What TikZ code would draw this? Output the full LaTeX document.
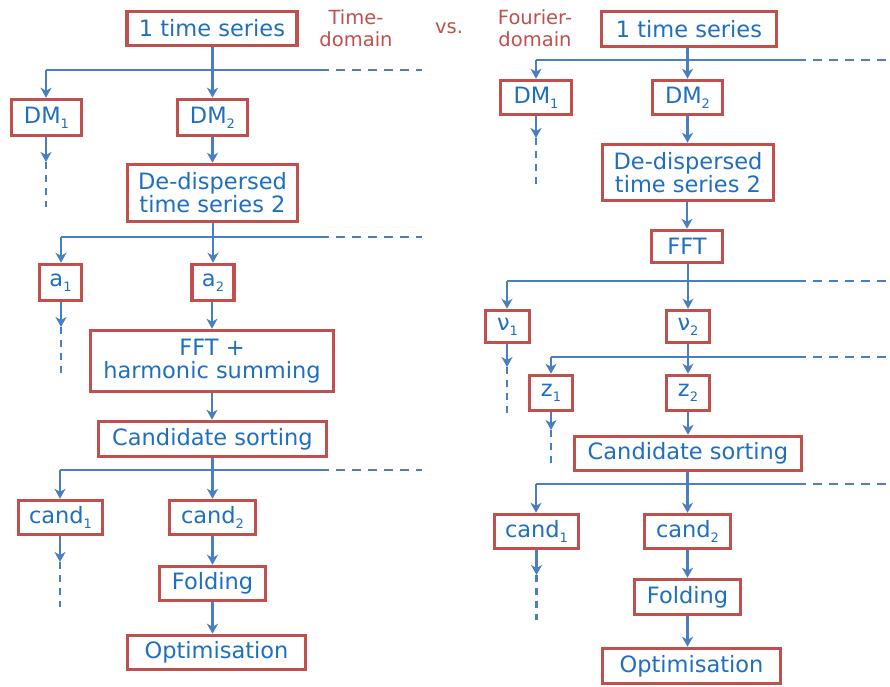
\documentclass[tikz,border=0pt]{standalone}
\usepackage{fontspec}
\setmainfont{DejaVu Sans}
\usetikzlibrary{arrows.meta}
\definecolor{boxred}{HTML}{C0504D}
\definecolor{linkblue}{HTML}{4A7EC2}
\definecolor{txtblue}{HTML}{1F6FC0}
\newcommand{\lowsub}[1]{\raisebox{-0.4ex}{\fontsize{13}{13}\selectfont #1}}
\begin{document}
\begin{tikzpicture}[x=1pt,y=-1pt,
  box/.style={draw=boxred,line width=3.5pt,fill=white,text=txtblue,
    font=\fontsize{22.5}{23}\selectfont,align=center,inner sep=0pt},
  conn/.style={draw=linkblue,line width=2.6pt},
  arr/.style={conn,-{Stealth[length=10pt,width=11pt,inset=3pt]}},
  hdash/.style={conn,dash pattern=on 9pt off 7pt},
  vdash/.style={conn,dash pattern=on 7pt off 6pt},
  lbl/.style={text=boxred,font=\fontsize{19.5}{22}\selectfont,align=center,inner sep=0pt}]
\useasboundingbox (0,0) rectangle (890,686);
\fill[white] (0,0) rectangle (890,686);

% ---------- left: time-domain ----------
\node[box,minimum width=170pt,minimum height=34pt] (tsL) at (212,28.5) {1 time series};
\node[box,minimum width=70pt,minimum height=36pt] (dm1L) at (46.5,117.5) {DM\lowsub{1}};
\node[box,minimum width=70pt,minimum height=36pt] (dm2L) at (212.5,117.5) {DM\lowsub{2}};
\node[box,minimum width=170pt,minimum height=57pt] (ddL) at (212.5,193) {De-dispersed\\time series 2};
\node[box,minimum width=42pt,minimum height=36pt] (a1L) at (60.5,282.5) {a\lowsub{1}};
\node[box,minimum width=42pt,minimum height=36pt] (a2L) at (213,282.5) {a\lowsub{2}};
\node[box,minimum width=243pt,minimum height=61pt] (fftL) at (212,361) {FFT +\\harmonic summing};
\node[box,minimum width=228pt,minimum height=35pt] (csL) at (212.5,439) {Candidate sorting};
\node[box,minimum width=84pt,minimum height=34pt] (c1L) at (60.5,517.5) {cand\lowsub{1}};
\node[box,minimum width=86pt,minimum height=34pt] (c2L) at (212.5,517.5) {cand\lowsub{2}};
\node[box,minimum width=106pt,minimum height=34pt] (foldL) at (212.5,583.5) {Folding};
\node[box,minimum width=178pt,minimum height=34pt] (optL) at (216.5,652.5) {Optimisation};

\node[lbl] (tdom) at (356,28) {Time-\\domain};
\node[lbl] (vs) at (449,28) {vs.};
\node[lbl] (fdom) at (535,28) {Fourier-\\domain};

% buses left
\coordinate (bL1) at (46,70);   \coordinate (bL1s) at (320,70);  \coordinate (bL1e) at (422,70);
\coordinate (bL2) at (61,237);  \coordinate (bL2s) at (320,237); \coordinate (bL2e) at (422,237);
\coordinate (bL3) at (60,470);  \coordinate (bL3s) at (320,470); \coordinate (bL3e) at (422,470);
\draw[conn] (bL1) -- (bL1s); \draw[hdash] (bL1s) -- (bL1e);
\draw[conn] (bL2) -- (bL2s); \draw[hdash] (bL2s) -- (bL2e);
\draw[conn] (bL3) -- (bL3s); \draw[hdash] (bL3s) -- (bL3e);

\draw[arr] (tsL.south -| dm2L) -- (dm2L.north);
\draw[arr] (bL1) -- (bL1 |- dm1L.north);
\draw[arr] (dm2L.south) -- (dm2L.south |- ddL.north);
\draw[arr] (ddL.south -| a2L) -- (a2L.north);
\draw[arr] (bL2) -- (bL2 |- a1L.north);
\draw[arr] (a2L.south -| fftL) -- (fftL.north);
\draw[arr] (fftL.south) -- (fftL.south |- csL.north);
\draw[arr] (csL.south -| c2L) -- (c2L.north);
\draw[arr] (bL3) -- (bL3 |- c1L.north);
\draw[arr] (c2L.south) -- (c2L.south |- foldL.north);
\draw[arr] (foldL.south) -- (foldL.south |- optL.north);

% dangling left
\coordinate (dL1a) at (46,162); \coordinate (dL1b) at (46,207);
\coordinate (dL2a) at (61,327); \coordinate (dL2b) at (61,373);
\coordinate (dL3a) at (60,562); \coordinate (dL3b) at (60,607);
\draw[arr] (dm1L.south -| dL1a) -- (dL1a); \draw[vdash] (dL1a) -- (dL1b);
\draw[arr] (a1L.south -| dL2a) -- (dL2a);  \draw[vdash] (dL2a) -- (dL2b);
\draw[arr] (c1L.south -| dL3a) -- (dL3a);  \draw[vdash] (dL3a) -- (dL3b);

% ---------- right: Fourier-domain ----------
\node[box,minimum width=175pt,minimum height=35pt] (tsR) at (689,29) {1 time series};
\node[box,minimum width=71pt,minimum height=34pt] (dm1R) at (536,97.5) {DM\lowsub{1}};
\node[box,minimum width=70pt,minimum height=34pt] (dm2R) at (687.5,97.5) {DM\lowsub{2}};
\node[box,minimum width=171pt,minimum height=56pt] (ddR) at (688,172.5) {De-dispersed\\time series 2};
\node[box,minimum width=71pt,minimum height=32pt] (fftR) at (687,246.5) {FFT};
\node[box,minimum width=44pt,minimum height=32pt] (nu1) at (507.5,326.5) {ν\lowsub{1}};
\node[box,minimum width=43pt,minimum height=32pt] (nu2) at (688,326.5) {ν\lowsub{2}};
\node[box,minimum width=43pt,minimum height=35pt] (z1) at (551,393) {z\lowsub{1}};
\node[box,minimum width=43pt,minimum height=35pt] (z2) at (688,393) {z\lowsub{2}};
\node[box,minimum width=227pt,minimum height=34pt] (csR) at (688,453.5) {Candidate sorting};
\node[box,minimum width=84pt,minimum height=34pt] (c1R) at (536.5,531.5) {cand\lowsub{1}};
\node[box,minimum width=86pt,minimum height=34pt] (c2R) at (687.5,531.5) {cand\lowsub{2}};
\node[box,minimum width=106pt,minimum height=35pt] (foldR) at (687.5,597) {Folding};
\node[box,minimum width=178pt,minimum height=35pt] (optR) at (691.5,666) {Optimisation};

\coordinate (bR1) at (536,60);  \coordinate (bR1s) at (797,60);  \coordinate (bR1e) at (890,60);
\coordinate (bR2) at (507,281); \coordinate (bR2s) at (797,281); \coordinate (bR2e) at (890,281);
\coordinate (bR3) at (551,357); \coordinate (bR3s) at (797,357); \coordinate (bR3e) at (890,357);
\coordinate (bR4) at (536,484); \coordinate (bR4s) at (797,484); \coordinate (bR4e) at (890,484);
\draw[conn] (bR1) -- (bR1s); \draw[hdash] (bR1s) -- (bR1e);
\draw[conn] (bR2) -- (bR2s); \draw[hdash] (bR2s) -- (bR2e);
\draw[conn] (bR3) -- (bR3s); \draw[hdash] (bR3s) -- (bR3e);
\draw[conn] (bR4) -- (bR4s); \draw[hdash] (bR4s) -- (bR4e);

\draw[arr] (tsR.south -| dm2R) -- (dm2R.north);
\draw[arr] (bR1) -- (bR1 |- dm1R.north);
\draw[arr] (dm2R.south) -- (dm2R.south |- ddR.north);
\draw[arr] (ddR.south -| fftR) -- (fftR.north);
\draw[arr] (fftR.south -| nu2) -- (nu2.north);
\draw[arr] (bR2) -- (bR2 |- nu1.north);
\draw[arr] (nu2.south) -- (z2.north);
\draw[arr] (bR3) -- (bR3 |- z1.north);
\draw[arr] (z2.south) -- (z2.south |- csR.north);
\draw[arr] (csR.south -| c2R) -- (c2R.north);
\draw[arr] (bR4) -- (bR4 |- c1R.north);
\draw[arr] (c2R.south) -- (c2R.south |- foldR.north);
\draw[arr] (foldR.south) -- (foldR.south |- optR.north);

\coordinate (dR1a) at (536,138);   \coordinate (dR1b) at (536,187);
\coordinate (dR2a) at (507,367);   \coordinate (dR2b) at (507,415);
\coordinate (dR3a) at (551,430);   \coordinate (dR3b) at (551,465);
\coordinate (dR4a) at (536.5,575); \coordinate (dR4b) at (536.5,620);
\draw[arr] (dm1R.south -| dR1a) -- (dR1a); \draw[vdash] (dR1a) -- (dR1b);
\draw[arr] (nu1.south -| dR2a) -- (dR2a);  \draw[vdash] (dR2a) -- (dR2b);
\draw[arr] (z1.south -| dR3a) -- (dR3a);   \draw[vdash] (dR3a) -- (dR3b);
\draw[arr] (c1R.south -| dR4a) -- (dR4a);  \draw[vdash] (dR4a) -- (dR4b);
\end{tikzpicture}
\end{document}
